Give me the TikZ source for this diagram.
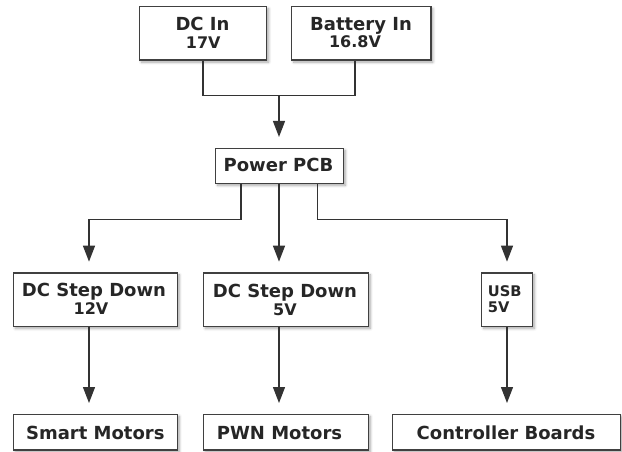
\documentclass[tikz,border=0pt]{standalone}
\usepackage{fontspec}
\setmainfont{DejaVu Sans}
\usetikzlibrary{arrows.meta,shadows.blur}
\begin{document}
\begin{tikzpicture}[x=0.75pt,y=-0.75pt,
  box/.style={draw=black!75, line width=1pt, fill=white, rectangle, inner sep=0pt,
    blur shadow={shadow xshift=1.5pt, shadow yshift=-1.5pt, shadow blur steps=6, shadow opacity=35, shadow blur radius=2pt}},
  big/.style={font=\fontsize{13.5}{16}\selectfont\bfseries, text=black!85, inner sep=0pt, anchor=base},
  small/.style={font=\fontsize{12}{14}\selectfont\bfseries, text=black!85, inner sep=0pt, anchor=base},
  usbt/.style={font=\fontsize{11}{13}\selectfont\bfseries, text=black!85, inner sep=0pt, anchor=base west},
  wire/.style={draw=black!80, line width=1pt},
  arr/.style={wire, -{Triangle[length=12pt,width=9pt]}, shorten >=8pt}]
\useasboundingbox (0,0) rectangle (622,451);
% boxes
\node[box, minimum width=95.5pt, minimum height=40pt] (dcin) at (203,33.4) {};
\node[box, minimum width=104.5pt, minimum height=40pt] (bat) at (361.3,33.4) {};
\node[box, minimum width=95.7pt, minimum height=26.25pt] (pcb) at (279.5,165.8) {};
\node[box, minimum width=123pt, minimum height=40.1pt] (sd12) at (95.3,299.7) {};
\node[box, minimum width=123.75pt, minimum height=40.1pt] (sd5) at (285.8,299.7) {};
\node[box, minimum width=38pt, minimum height=40.1pt] (usb) at (507,299.7) {};
\node[box, minimum width=123pt, minimum height=26.8pt] (smart) at (95.3,432.2) {};
\node[box, minimum width=123.75pt, minimum height=26.8pt] (pwn) at (285.8,432.2) {};
\node[box, minimum width=171pt, minimum height=26.8pt] (ctrl) at (506.7,432.2) {};
% texts
\node[big] (t1) at (202.5,30.7) {DC In};
\node[small] (t2) at (203.3,48.3) {17V};
\node[big] (t3) at (361,30.7) {Battery In};
\node[small] (t4) at (355,47) {16.8V};
\node[big] (t5) at (278.5,171.7) {Power PCB};
\node[big] (t6) at (94,296.7) {DC Step Down};
\node[small] (t7) at (91,314.5) {12V};
\node[big] (t8) at (285,297) {DC Step Down};
\node[small] (t9) at (285,315) {5V};
\node[usbt] (t10) at (487.7,296.7) {USB};
\node[usbt] (t11) at (487.7,312.7) {5V};
\node[big] (t12) at (95.3,439) {Smart Motors};
\node[big] (t13) at (279.5,439) {PWN Motors};
\node[big] (t14) at (506,439) {Controller Boards};
% coordinates
\coordinate (xL) at (89,0);
\coordinate (xM) at (279,0);
\coordinate (xPL) at (241,0);
\coordinate (xPR) at (317.3,0);
\coordinate (xB) at (355,0);
\coordinate (j) at (279,95.7);
\coordinate (hl) at (89,219.3);
\coordinate (hr) at (507,219.3);
% connectors
\draw[wire] (dcin.south) |- (j);
\draw[wire] (bat.south -| xB) |- (j);
\draw[arr] (j) -- (j |- pcb.north);
\draw[arr] (pcb.south -| xPL) |- (hl) -- (sd12.north -| xL);
\draw[arr] (pcb.south -| xM) -- (sd5.north -| xM);
\draw[arr] (pcb.south -| xPR) |- (hr) -- (usb.north);
\draw[arr] (sd12.south -| xL) -- (smart.north -| xL);
\draw[arr] (sd5.south -| xM) -- (pwn.north -| xM);
\draw[arr] (usb.south) -- (ctrl.north -| usb.south);
\end{tikzpicture}
\end{document}
